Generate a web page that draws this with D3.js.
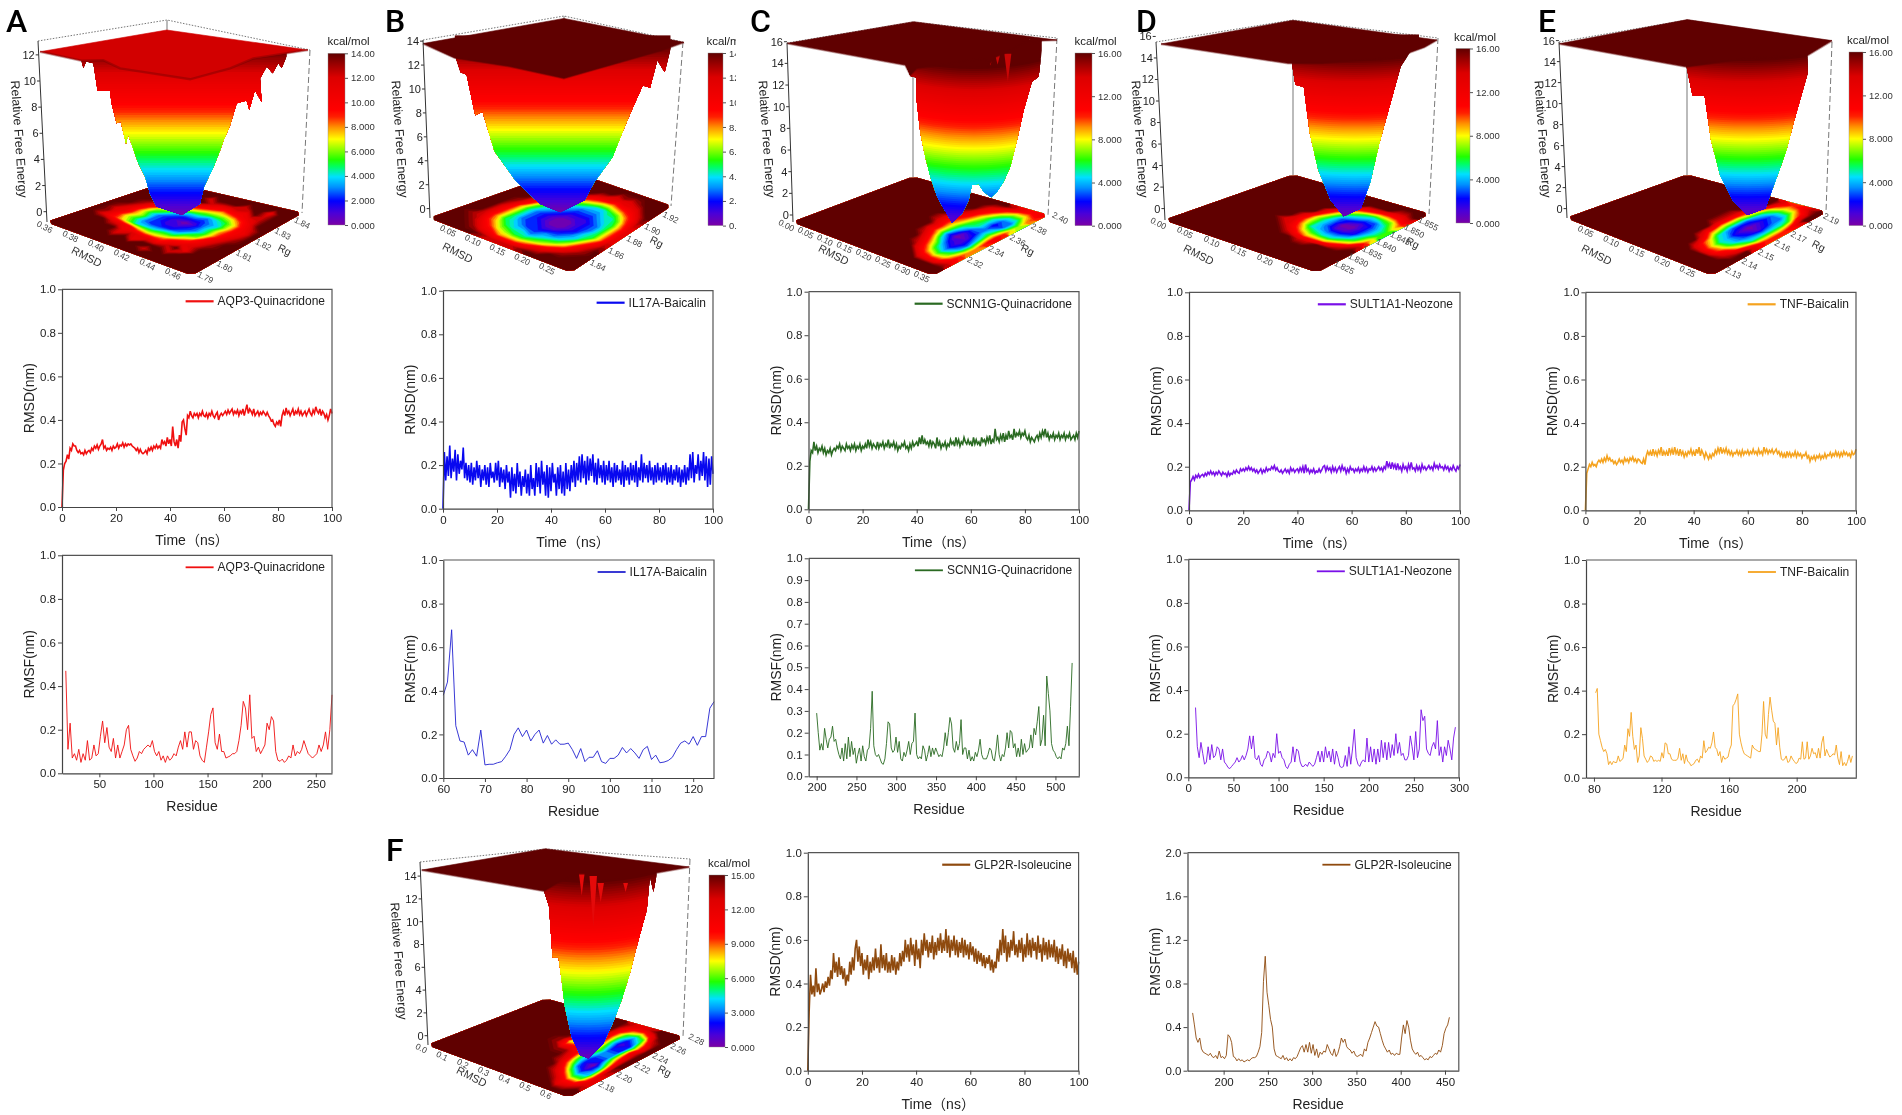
<!DOCTYPE html>
<html>
<head>
<meta charset="utf-8">
<script src="https://cdn.jsdelivr.net/npm/d3@7"></script>
<style>
  body { margin: 0; background: #fff; }
  svg { display: block; filter: blur(0.35px); font-family: "Liberation Sans", "Noto Sans CJK SC", sans-serif; }
</style>
</head>
<body>
<div id="container"></div>
<script>
// RMSD traces, one value every half nanosecond
const rmsdA = [0,.17,.2,.21,.24,.22,.27,.26,.29,.28,.28,.26,.25,.26,.245,.25,.24,.26,.245,.255,
  .26,.25,.27,.26,.28,.27,.285,.265,.28,.29,.31,.27,.28,.26,.27,.265,.275,.26,.28,.27,
  .275,.29,.27,.285,.28,.295,.275,.29,.28,.29,.285,.29,.28,.275,.27,.26,.27,.25,.265,.25,
  .245,.25,.26,.245,.27,.26,.275,.26,.28,.27,.285,.27,.28,.27,.31,.29,.30,.28,.32,.29,
  .31,.28,.37,.30,.28,.31,.27,.33,.30,.39,.40,.36,.33,.42,.41,.44,.42,.41,.43,.42,
  .43,.41,.43,.42,.44,.42,.415,.43,.41,.43,.42,.44,.42,.41,.425,.435,.40,.42,.43,.42,
  .43,.44,.425,.445,.43,.44,.45,.425,.44,.43,.445,.42,.44,.43,.45,.42,.445,.47,.43,.45,
  .44,.425,.45,.42,.43,.44,.42,.435,.425,.44,.43,.42,.435,.42,.41,.395,.40,.38,.37,.39,
  .38,.40,.37,.42,.44,.42,.455,.43,.44,.42,.435,.45,.42,.44,.43,.45,.425,.44,.42,.43,
  .44,.42,.435,.45,.43,.42,.445,.43,.46,.44,.43,.45,.42,.44,.43,.41,.425,.40,.42,.45,.43];
const rmsdB = [0,.26,.13,.24,.15,.29,.14,.23,.17,.27,.13,.25,.16,.22,.18,.28,.14,.21,.13,.2,
  .12,.21,.11,.19,.13,.22,.14,.2,.1,.18,.13,.2,.11,.19,.1,.21,.14,.17,.12,.21,
  .13,.22,.1,.19,.12,.18,.09,.2,.12,.17,.05,.19,.08,.16,.07,.21,.1,.17,.06,.15,
  .1,.18,.07,.16,.06,.2,.09,.14,.06,.21,.1,.19,.07,.22,.11,.17,.06,.2,.05,.19,
  .08,.21,.12,.16,.06,.19,.09,.2,.07,.17,.06,.21,.09,.18,.08,.2,.12,.22,.1,.21,
  .13,.24,.12,.25,.14,.22,.11,.24,.13,.23,.15,.25,.12,.21,.11,.23,.14,.2,.12,.22,
  .11,.2,.13,.22,.12,.19,.1,.21,.12,.2,.13,.18,.11,.22,.1,.2,.13,.19,.11,.21,
  .13,.2,.12,.22,.1,.19,.13,.25,.12,.21,.14,.2,.12,.22,.13,.19,.11,.2,.12,.21,
  .13,.19,.12,.2,.13,.21,.11,.19,.12,.2,.11,.18,.13,.2,.12,.19,.1,.18,.12,.2,
  .11,.19,.13,.25,.14,.26,.12,.2,.16,.25,.13,.22,.15,.26,.13,.24,.1,.23,.11,.24,.16];
const rmsdC = [0,.22,.27,.26,.31,.27,.29,.26,.28,.27,.29,.26,.28,.25,.27,.26,.28,.25,.27,.28,
  .27,.29,.28,.30,.27,.29,.28,.27,.30,.28,.29,.27,.295,.28,.30,.27,.29,.28,.30,.27,
  .29,.28,.30,.28,.32,.29,.31,.28,.30,.29,.28,.31,.28,.30,.29,.31,.28,.30,.29,.32,
  .28,.30,.29,.31,.28,.30,.27,.29,.28,.30,.29,.31,.28,.29,.27,.30,.28,.31,.29,.30,
  .31,.29,.33,.30,.34,.30,.32,.30,.31,.29,.32,.29,.31,.30,.28,.33,.29,.31,.28,.30,
  .29,.31,.28,.30,.29,.32,.30,.31,.29,.33,.30,.32,.29,.31,.30,.33,.31,.30,.32,.30,
  .31,.29,.33,.30,.32,.30,.31,.29,.33,.31,.32,.30,.33,.31,.34,.30,.32,.31,.37,.32,
  .33,.31,.34,.32,.35,.31,.34,.32,.36,.33,.34,.32,.37,.33,.35,.34,.36,.33,.35,.34,
  .36,.33,.32,.34,.31,.33,.32,.31,.33,.34,.32,.35,.33,.36,.34,.37,.33,.35,.32,.34,
  .33,.35,.32,.34,.33,.35,.32,.34,.33,.35,.32,.34,.33,.35,.32,.33,.34,.32,.35,.33,.36];
const rmsdD = [0,.13,.14,.155,.14,.16,.15,.165,.15,.16,.165,.155,.17,.16,.175,.165,.18,.165,.175,.16,
  .175,.165,.18,.17,.16,.175,.165,.17,.155,.175,.16,.17,.165,.18,.17,.185,.175,.17,.19,.18,
  .19,.18,.195,.185,.2,.185,.195,.18,.19,.175,.185,.17,.18,.19,.17,.185,.175,.195,.18,.19,
  .185,.2,.19,.205,.185,.195,.18,.175,.185,.17,.18,.19,.175,.185,.17,.195,.18,.19,.175,.185,
  .19,.175,.195,.18,.2,.17,.21,.18,.19,.17,.185,.175,.19,.17,.18,.175,.19,.175,.185,.2,
  .205,.18,.2,.185,.195,.175,.2,.18,.195,.175,.19,.2,.18,.205,.185,.195,.17,.19,.175,.2,
  .185,.19,.175,.19,.18,.195,.175,.19,.18,.2,.18,.195,.175,.19,.185,.2,.18,.195,.18,.19,
  .2,.185,.195,.18,.2,.19,.225,.2,.215,.19,.22,.195,.21,.185,.215,.19,.2,.18,.21,.19,
  .2,.18,.21,.19,.22,.19,.195,.18,.205,.185,.2,.18,.21,.19,.2,.185,.195,.205,.19,.2,
  .185,.215,.195,.205,.19,.21,.195,.2,.185,.205,.19,.2,.18,.195,.185,.205,.19,.18,.2,.19,.21];
const rmsdE = [0,.17,.19,.21,.2,.22,.205,.21,.2,.22,.23,.22,.235,.22,.24,.225,.25,.23,.24,.225,
  .23,.215,.225,.21,.22,.235,.22,.23,.215,.24,.225,.235,.22,.24,.23,.245,.225,.235,.22,.235,
  .23,.22,.215,.235,.21,.25,.27,.255,.27,.25,.28,.255,.27,.25,.275,.26,.29,.25,.27,.255,
  .27,.25,.285,.26,.28,.255,.29,.26,.275,.25,.28,.255,.27,.245,.265,.25,.27,.26,.28,.255,
  .27,.25,.28,.26,.29,.25,.275,.26,.24,.265,.25,.235,.255,.24,.26,.25,.275,.26,.285,.265,
  .29,.26,.28,.265,.285,.26,.275,.255,.27,.25,.265,.26,.275,.255,.27,.25,.275,.255,.27,.26,
  .275,.255,.27,.26,.28,.26,.27,.255,.28,.26,.27,.255,.29,.265,.28,.26,.275,.265,.28,.26,
  .27,.28,.26,.27,.25,.265,.245,.26,.24,.27,.25,.265,.245,.26,.25,.27,.245,.265,.25,.26,
  .24,.255,.25,.265,.24,.25,.225,.245,.235,.25,.23,.25,.24,.255,.235,.25,.24,.26,.24,.255,
  .25,.265,.245,.26,.25,.27,.25,.265,.245,.265,.25,.27,.255,.265,.25,.26,.245,.27,.255,.26,.28];
const rmsdF = [0,.27,.44,.35,.39,.34,.47,.36,.4,.35,.37,.4,.36,.41,.38,.43,.39,.46,.42,.54,
  .45,.5,.43,.52,.44,.48,.42,.47,.39,.44,.41,.5,.44,.52,.46,.56,.6,.5,.57,.48,
  .54,.44,.51,.46,.53,.42,.5,.45,.52,.46,.56,.47,.52,.45,.58,.47,.53,.46,.54,.45,
  .5,.45,.53,.46,.52,.44,.5,.46,.54,.48,.55,.5,.6,.52,.58,.5,.61,.53,.58,.48,
  .6,.51,.56,.47,.6,.53,.63,.55,.6,.52,.59,.54,.62,.51,.59,.53,.61,.55,.63,.54,
  .6,.55,.65,.54,.62,.52,.6,.55,.62,.53,.6,.52,.59,.54,.61,.52,.6,.53,.58,.51,
  .59,.53,.57,.5,.56,.49,.55,.5,.54,.48,.53,.47,.52,.49,.53,.46,.51,.45,.5,.47,
  .56,.5,.6,.53,.65,.54,.62,.5,.59,.52,.6,.55,.64,.53,.58,.52,.6,.54,.61,.5,
  .58,.52,.63,.53,.6,.52,.61,.55,.59,.51,.62,.54,.58,.5,.61,.53,.59,.51,.6,.52,
  .58,.52,.6,.5,.57,.49,.56,.51,.58,.48,.55,.47,.56,.5,.54,.47,.55,.45,.52,.44,.5];

// RMSF traces, evenly spread between rmsfFirst and rmsfLast residue
const rmsfA = [.47,.11,.23,.07,.09,.06,.11,.05,.09,.06,.15,.06,.07,.13,.08,.09,.17,.24,.14,.21,.12,.1,.16,.07,.13,.07,.1,.13,.2,.22,.11,.08,.055,.07,.1,.09,.11,.12,.13,.12,.15,.1,.08,.1,.06,.08,.05,.08,.06,.07,.09,.08,.12,.15,.11,.19,.12,.19,.19,.11,.15,.14,.08,.06,.05,.12,.19,.27,.3,.14,.11,.18,.1,.1,.07,.075,.08,.09,.09,.1,.15,.22,.33,.3,.2,.36,.16,.17,.1,.12,.09,.11,.13,.23,.2,.26,.24,.1,.06,.055,.065,.05,.06,.08,.07,.13,.08,.1,.09,.11,.15,.12,.09,.08,.07,.08,.09,.13,.1,.13,.19,.11,.2,.36];
const rmsfB = [.38,.44,.68,.24,.17,.165,.105,.13,.1,.22,.06,.063,.063,.07,.075,.1,.13,.2,.23,.19,.22,.17,.2,.22,.16,.195,.155,.175,.155,.155,.16,.13,.09,.135,.075,.095,.095,.125,.075,.067,.09,.09,.105,.14,.115,.135,.115,.09,.13,.145,.085,.105,.07,.073,.08,.095,.13,.16,.17,.155,.19,.15,.19,.19,.32,.35];
const rmsfC = [.29,.2,.12,.15,.12,.22,.17,.13,.17,.18,.23,.16,.17,.13,.1,.08,.13,.07,.15,.08,.18,.09,.16,.1,.13,.06,.1,.13,.07,.14,.09,.07,.12,.13,.22,.39,.14,.1,.09,.1,.08,.06,.055,.08,.15,.25,.24,.13,.11,.12,.18,.11,.16,.08,.07,.11,.09,.12,.16,.1,.15,.16,.29,.1,.08,.09,.08,.14,.12,.07,.1,.14,.09,.13,.1,.13,.11,.09,.1,.09,.13,.2,.14,.2,.27,.24,.13,.11,.16,.12,.15,.26,.1,.13,.13,.08,.12,.07,.09,.07,.11,.09,.12,.17,.1,.08,.08,.08,.1,.13,.12,.08,.07,.12,.19,.1,.07,.1,.09,.13,.2,.13,.21,.2,.13,.15,.09,.13,.09,.17,.1,.15,.11,.12,.13,.19,.13,.22,.19,.25,.32,.14,.17,.28,.14,.46,.38,.3,.15,.12,.11,.09,.08,.09,.08,.13,.12,.15,.23,.14,.32,.52];
const rmsfD = [.32,.14,.09,.16,.11,.06,.07,.14,.08,.15,.09,.1,.14,.13,.08,.13,.07,.06,.045,.04,.05,.06,.07,.09,.07,.08,.1,.08,.1,.13,.19,.13,.19,.09,.08,.1,.06,.05,.08,.09,.12,.11,.07,.11,.09,.2,.11,.12,.09,.08,.05,.04,.06,.07,.14,.07,.13,.12,.07,.05,.05,.06,.05,.07,.06,.05,.06,.09,.12,.07,.12,.07,.14,.09,.12,.07,.13,.06,.12,.09,.05,.045,.05,.1,.05,.14,.06,.13,.22,.09,.06,.05,.07,.08,.07,.18,.07,.14,.07,.13,.06,.13,.07,.17,.09,.16,.08,.16,.09,.15,.1,.2,.11,.16,.1,.11,.08,.08,.1,.19,.14,.08,.21,.09,.13,.31,.26,.28,.13,.11,.1,.14,.16,.13,.26,.1,.14,.07,.14,.1,.17,.13,.08,.18,.23];
const rmsfE = [.39,.41,.2,.17,.14,.12,.13,.11,.06,.075,.06,.075,.07,.07,.1,.075,.08,.09,.15,.12,.225,.19,.3,.19,.13,.15,.07,.1,.23,.18,.1,.085,.07,.08,.1,.095,.075,.08,.075,.08,.075,.115,.09,.16,.155,.11,.11,.085,.08,.08,.08,.09,.135,.08,.11,.065,.105,.075,.07,.055,.06,.065,.08,.085,.07,.1,.09,.17,.115,.125,.14,.135,.16,.21,.14,.13,.1,.12,.07,.1,.085,.09,.095,.13,.15,.33,.34,.36,.385,.2,.16,.13,.11,.105,.1,.095,.09,.15,.135,.13,.125,.12,.12,.2,.35,.2,.18,.29,.37,.31,.26,.25,.15,.23,.14,.085,.08,.085,.1,.07,.075,.1,.085,.075,.065,.07,.09,.085,.165,.085,.09,.165,.085,.1,.135,.11,.115,.09,.135,.09,.16,.19,.1,.13,.11,.095,.1,.11,.105,.15,.09,.06,.12,.055,.07,.055,.075,.105,.07,.1];
const rmsfF = [.53,.42,.3,.26,.3,.2,.17,.16,.15,.14,.16,.13,.12,.14,.11,.18,.12,.13,.11,.14,
  .33,.31,.26,.13,.12,.09,.11,.09,.1,.08,.09,.1,.09,.11,.12,.12,.13,.17,.22,.35,
  .82,1.05,.72,.6,.47,.4,.2,.14,.13,.12,.11,.14,.1,.12,.09,.11,.09,.12,.11,.13,
  .17,.21,.23,.17,.24,.17,.26,.16,.24,.14,.2,.12,.17,.15,.18,.17,.24,.2,.16,.14,
  .2,.13,.16,.22,.3,.26,.29,.22,.2,.19,.16,.18,.14,.13,.14,.15,.13,.2,.18,.26,
  .3,.35,.4,.45,.41,.4,.34,.28,.23,.2,.17,.19,.15,.16,.14,.16,.15,.15,.3,.42,
  .34,.46,.4,.28,.2,.17,.15,.17,.13,.14,.12,.1,.11,.1,.13,.12,.14,.16,.15,.19,.17,.23,.34,.39,.42,.49];
const rmsfFirst = [19, 60, 200, 8, 81, 165];
const rmsfLast = [265, 125, 521, 296, 233, 455];

// Free energy on the RMSD / Rg floor, one character per cell (base 36, kcal/mol)
const floorA = ['eeeeeeeeeeeeeeee','eeeeeeeeeceeeeee','eeeeecebeeeceeee','eeeeebcbbacebeee','eeecba8778abceee','eca864445579bdee','eda753222356acee','ecb8632112358bde','edb8532101358ace','eec9653222347abe','eedb975443457ace','eeeeba8766679bee','eeeeceba989abcee','eeeeeeecbbcbecee','eeeeeeceeeceebee','eeeeeeeeeeeeeeee'];
const floorB = ['eeeeedcccdeeeeee','eeedba8889bceeee','eedb97655679bdee','edc9754434568bde','eeb85432233469ce','eeb85322112347ad','eeb853210012458c','eec853210012358b','eeda64321112358b','eeeb85432223458b','eeeda8543334469c','eeeeda86544568ad','eeeeedb987789ace','eeeeeeecbbabbcee','eeeeeeeeecdcdeee','eeeeeeeeeeeeeeee'];
const floorC = ['gggggggggggggggg','gggggggggggggggg','ggggggggggggcbbe','gggggggggggc978b','ggggggggggea646a','ggggggggggc84249','gggggggggea52139','gggggggggc83014a','gggggggggc84125b','ggggggggeb85336b','ggggggggeb96535a','gggggggggca75238','gggggggggeb85337','ggggggggggca7559','ggggggggggeca88a','ggggggggggggecbc'];
const floorD = ['gggggggggggggggg','gggggggggggggggg','gggggggggggggggg','gggggggggggggggg','ggggggggggeegggg','ggggggggeb999beg','gggggggeb865579e','gggggged9543346a','gggggggc85311258','gggggggd85300246','gggggggga6321246','ggggggggc8543358','gggggggggb86567a','ggggggggggcbaabd','gggggggggggggeeg','gggggggggggggggg'];
const floorE = ['gggggggggggggggg','gggggggggggggggg','gggggggggggggggg','gggggggggggdbbeg','ggggggggggga89cg','ggggggggggd8569g','gggggggggga5447d','gggggggggg94235b','ggggggggge83125a','ggggggggge83015a','ggggggggge83125a','ggggggggge94235b','gggggggggga5336d','ggggggggggc7559g','ggggggggggga88bg','gggggggggggdabeg'];
const floorF = ['ffffffffffffffff','fffffffffffffcdf','ffffffffffffdaad','fffffffffffda66c','fffffffffffb634c','ffffffffffd8314d','ffffffffffc6205e','ffffffffeeb5227f','fffffffeabb6339f','fffffffe78c733af','ffffffffbac622bf','fffffffffeb5129f','fffffffffea524af','ffffffffffa646df','ffffffffffb98bff','ffffffffffdcdfff'];

// Funnel outline: u = percent across the box, z = kcal/mol
const wallUA = [15.5,16.2,17.2,19.9,21.5,26.1,26.7,28.6,30.1,32.1,32.9,36.7,39.2,41,43.5,52.9,59.7,61.2,64.7,67.2,68.4,70.9,73.4,77.1,78.1,80.2,82.7,82.1,84.6,86.8,88.9,90.2,92,92,15.5];
const wallZA = [11.5,11,11.5,11.35,9.26,9.26,8.3,6.76,6.9,5.2,5.9,3.7,2.7,1.4,.4,-.25,.6,1.9,3.4,4.7,5.4,6.6,8.3,8.5,7.8,9.3,8.4,10.2,11.1,10.6,11.35,11,11.9,12.4,12.4];
const wallUB = [12.1,14.4,16.7,20,22.8,27.4,35.3,40.9,44.7,52.6,61.9,65.6,72.6,77.2,80.5,84.2,87,89.8,92.6,94.9,94.9,12.1];
const wallZB = [12.9,11.4,11.2,7.8,8.1,4.8,2.4,1.2,.4,-.3,.7,2.2,4.3,6.8,8.5,10.3,10.1,12.4,11.4,13.4,14.5,14.5];
const wallUC = [44.1,45.7,47.8,47.8,49.4,51.2,53.1,55.6,58,61.1,64.8,67.3,68.5,71,72.8,75.6,77.8,80.2,82.7,85.2,87.7,90.7,93.2,94.4,94.4,44.1];
const wallZC = [13.85,12.83,12.7,11.08,7.54,5.38,3.54,1.69,.62,-.7,.15,1.38,2.77,2.86,2.15,1.63,2.15,3.08,4.46,6.92,9.69,12.3,12.77,15.2,16.2,16.2];
const wallUD = [53.3,54.7,57.8,60,63.1,67.6,72.4,78.7,82.2,85.3,88.9,93.3,97.8,100,100,53.3];
const wallZD = [13.75,11.5,11.3,7,3.6,.8,-.7,0,2.5,5.9,9.2,13.2,14.9,15.5,16.2,16.2];
const wallUE = [46.7,48.9,53.3,55.6,59.1,63.6,68.9,75.6,79.1,83.1,86.7,91.1,91.1,46.7];
const wallZE = [13.5,10.8,10.8,6.6,3.1,.8,-.6,0,2.5,5.4,8.9,12.9,16.2,16.2];
const wallUF = [45.7,47.6,48.9,51.1,52.3,53.5,56,59.2,62.3,67.9,71.6,74.7,77.8,81,84.1,85.3,86.6,87.8,87.8,45.7];
const wallZF = [12.69,11.32,6.87,6.87,4.88,2.54,-.09,-1.7,-2,-.67,1.23,3.13,5.47,8.39,11.02,13.95,12.63,14.09,14.8,14.8];

// Front edge of the plateau, left corner to right corner, then the far corner
const rimUA = [0,15.5,23.6,29.9,56,70.9,79.6,100,47.3];
const rimZA = [12.24,11.55,11.6,10.97,10.13,10.97,11.73,12.37,13.9];
const rimUB = [0,12.1,33,54,74.9,91,100,54];
const rimZB = [13.8,12.6,11.9,10.9,12.2,13.2,13.9,15.9];
const rimUC = [0,43.8,45.7,48.1,56.8,64.2,73.5,74.7,77.2,80.2,89.9,91.6,94.4,100,46.9];
const rimZC = [15.85,13.85,12.92,13.54,13.85,14.15,14.46,13.85,14.6,14.9,16.2,15.85,16.1,16.15,17.85];
const rimUD = [5.5,52,64.5,91,102,106.6,53.8];
const rimZD = [15.3,13.5,13.5,14,15,15.67,17.5];
const rimUE = [0,46.7,68.9,91.1,100,47];
const rimZE = [15.7,13.5,14.3,14.6,16,18];
const rimUF = [0,45.7,50.7,58.2,85.6,100,46.2];
const rimZF = [14.53,12.69,13.4,14.2,14.2,14.8,16.4];

// Light streaks hanging from the rim: centre, half width, top, tip
const streakUC = [75.3,78,81.8];
const streakWC = [1,1,1.3];
const streakTopC = [14.6,14.9,14.9];
const streakTipC = [13.8,13.9,12.3];
const streakUF = [59.8,64.1,66.9,76.2];
const streakWF = [1.2,1.4,1.2,.9];
const streakTopF = [14.5,14,13.4,13.4];
const streakTipF = [12.3,9.56,11.7,12.6];

// Colour bar ticks
const barTicksA = [0,2,4,6,8,10,12,14];
const barTicksC = [0,4,8,12,16];
const barTicksF = [0,3,6,9,12,15];
const zTicksA = [0,2,4,6,8,10,12];
const zTicksB = [0,2,4,6,8,10,12,14];
const zTicksC = [0,2,4,6,8,10,12,14,16];

// Floor axes tick labels
const rmsdTicksA = [.36,.38,.40,.42,.44,.46];
const rgTicksA = [1.79,1.80,1.81,1.82,1.83,1.84];
const rmsdTicksB = [.05,.10,.15,.20,.25];
const rgTicksB = [1.84,1.86,1.88,1.90,1.92];
const rmsdTicksC = [0,.05,.10,.15,.20,.25,.30,.35];
const rgTicksC = [2.32,2.34,2.36,2.38,2.40];
const rmsdTicksD = [0,.05,.10,.15,.20,.25];
const rgTicksD = [1.825,1.830,1.835,1.840,1.845,1.850,1.855];
const rmsdTicksE = [.05,.10,.15,.20,.25];
const rgTicksE = [2.13,2.14,2.15,2.16,2.17,2.18,2.19];
const rmsdTicksF = [0,.1,.2,.3,.4,.5,.6];
const rgTicksF = [2.18,2.20,2.22,2.24,2.26,2.28];

// Rainbow used by every surface and colour bar
const rainbowAt = [0,.07,.14,.22,.28,.34,.38,.5,.57,.63,.67,.8,.86,.93,1];
const rainbowColors = ['#7a00a5','#4a00d8','#0000ff','#0090ff','#00e0ff','#00ff60','#20ff00','#ffff00','#ff9000','#ff2000','#ff0000','#e80000','#dc0000','#a00000','#600000'];
const rainbow = d3.scaleLinear().domain(rainbowAt).range(rainbowColors);

const svg = d3.select('#container').append('svg')
  .attr('width', 1902)
  .attr('height', 1115);

const defs = svg.append('defs');

// ---------- line plots ----------
const linePlots = [
  { y: rmsdA, kind: 'rmsd', box: [62, 289.3, 332, 507], name: 'AQP3-Quinacridone', color: '#f01010' },
  { y: rmsdB, kind: 'rmsd', box: [443, 290.7, 713, 508.7], name: 'IL17A-Baicalin', color: '#0808f0' },
  { y: rmsdC, kind: 'rmsd', box: [808.5, 291.7, 1079, 509.3], name: 'SCNN1G-Quinacridone', color: '#2a6a22' },
  { y: rmsdD, kind: 'rmsd', box: [1189, 292.3, 1460, 510.3], name: 'SULT1A1-Neozone', color: '#7a10e8' },
  { y: rmsdE, kind: 'rmsd', box: [1585.4, 292.3, 1856, 510.3], name: 'TNF-Baicalin', color: '#f5a31f' },
  { y: rmsdF, kind: 'rmsd', box: [807.8, 852.7, 1078.6, 1070.7], name: 'GLP2R-Isoleucine', color: '#8f4a0e' },
  { y: rmsfA, kind: 'rmsf', i: 0, box: [62, 555.3, 332, 773.3], xd: [15.5, 265], xt: [50,100,150,200,250], name: 'AQP3-Quinacridone', color: '#f01010' },
  { y: rmsfB, kind: 'rmsf', i: 1, box: [443.3, 560, 714, 778], xd: [60, 125], xt: [60,70,80,90,100,110,120], name: 'IL17A-Baicalin', color: '#2424d0' },
  { y: rmsfC, kind: 'rmsf', i: 2, box: [808.7, 558.3, 1079.3, 776.3], xd: [190, 530], xt: [200,250,300,350,400,450,500], yt: d3.range(0, 1.01, .1), name: 'SCNN1G-Quinacridone', color: '#2a6a22' },
  { y: rmsfD, kind: 'rmsf', i: 3, box: [1188.3, 559.3, 1459, 777.3], xd: [0, 300], xt: [0,50,100,150,200,250,300], name: 'SULT1A1-Neozone', color: '#7a10e8' },
  { y: rmsfE, kind: 'rmsf', i: 4, box: [1586, 560, 1856.3, 777.7], xd: [75.3, 235.3], xt: [80,120,160,200], name: 'TNF-Baicalin', color: '#f5a31f' },
  { y: rmsfF, kind: 'rmsf', i: 5, box: [1187.5, 852.7, 1458.8, 1070.7], xd: [159.2, 465.6], xt: [200,250,300,350,400,450], yd: [0, 2], yt: [0,.4,.8,1.2,1.6,2], name: 'GLP2R-Isoleucine', color: '#8f4a0e' }
];

linePlots.forEach(p => {
  const [x0, y0, x1, y1] = p.box;
  const isRmsd = p.kind === 'rmsd';
  const xScale = d3.scaleLinear().domain(isRmsd ? [0, 100] : p.xd).range([x0, x1]);
  const yScale = d3.scaleLinear().domain(p.yd || [0, 1]).range([y1, y0]);
  const g = svg.append('g');

  const last = p.y.length - 1;
  const xAt = i => isRmsd ? i * 100 / last : rmsfFirst[p.i] + i * (rmsfLast[p.i] - rmsfFirst[p.i]) / last;
  g.append('path')
    .datum(p.y)
    .attr('fill', 'none')
    .attr('stroke', p.color)
    .attr('stroke-width', isRmsd ? 1.6 : 1)
    .attr('stroke-opacity', isRmsd ? 1 : .9)
    .attr('d', d3.line().x((d, i) => xScale(xAt(i))).y(d => yScale(d)));

  g.append('path')
    .attr('d', `M${x0},${y0}H${x1}V${y1}`)
    .attr('fill', 'none')
    .attr('stroke', '#555')
    .attr('stroke-width', 1.2);

  const xAxis = d3.axisBottom(xScale).tickSize(4).tickSizeOuter(0).tickPadding(3)
    .tickValues(isRmsd ? [0,20,40,60,80,100] : p.xt).tickFormat(d3.format('d'));
  const yAxis = d3.axisLeft(yScale).tickSize(4).tickSizeOuter(0).tickPadding(2)
    .tickValues(p.yt || [0,.2,.4,.6,.8,1]).tickFormat(d3.format('.1f'));

  [g.append('g').attr('transform', `translate(0,${y1})`).call(xAxis),
   g.append('g').attr('transform', `translate(${x0},0)`).call(yAxis)].forEach(a => {
    a.selectAll('text').attr('font-size', 11.5).attr('fill', '#222');
    a.attr('font-family', null);
    a.select('.domain').attr('stroke', '#444').attr('stroke-width', 1.2);
    a.selectAll('line').attr('stroke', '#444');
  });

  g.append('text')
    .attr('x', (x0 + x1) / 2 - 5)
    .attr('y', y1 + 38)
    .attr('text-anchor', 'middle')
    .attr('font-size', 14)
    .attr('fill', '#222')
    .text(isRmsd ? 'Time（ns）' : 'Residue');
  g.append('text')
    .attr('transform', `translate(${x0 - 28},${(y0 + y1) / 2}) rotate(-90)`)
    .attr('font-size', 14)
    .attr('fill', '#222')
    .attr('text-anchor', 'middle')
    .text(isRmsd ? 'RMSD(nm)' : 'RMSF(nm)');

  const label = g.append('text')
    .attr('x', x1 - 7)
    .attr('y', y0 + 16)
    .attr('text-anchor', 'end')
    .attr('font-size', 12)
    .attr('fill', '#222')
    .text(p.name);
  const w = label.node().getComputedTextLength();
  g.append('line')
    .attr('x1', x1 - 7 - w - 32).attr('x2', x1 - 7 - w - 4)
    .attr('y1', y0 + 12).attr('y2', y0 + 12)
    .attr('stroke', p.color)
    .attr('stroke-width', isRmsd ? 2.2 : 1.8);
});

// ---------- free energy surfaces ----------
const surfaces = [
  { id: 'A', grid: floorA, max: 14, plateau: 12.2, wallU: wallUA, wallZ: wallZA, rimU: rimUA, rimZ: rimZA,
    barTicks: barTicksA, zTicks: zTicksA, rmsdTicks: rmsdTicksA, rgTicks: rgTicksA,
    rmsdSpan: [.3566, .4696], rgSpan: [1.79, 1.8468], fmt: 2, rgFmt: 2,
    L: [47, 222], N: [192, 275], R: [302, 213], B: [167, 182], tL: [38, 41], tB: [167, 20], tR: [310, 50],
    uRange: [40, 308], z0: 211.7, zPerUnit: 13.07, band: [215.7, 48], bow: 0, tilt: 0, backLine: true,
    bar: [328, 345, 53.3, 225], title: [19.3, 139, 86], rmsdT: [85, 260], rgT: [283, 253], letter: [6, 32], clip: null },
  { id: 'B', grid: floorB, max: 14, plateau: 14, wallU: wallUB, wallZ: wallZB, rimU: rimUB, rimZ: rimZB,
    barTicks: barTicksA, zTicks: zTicksB, rmsdTicks: rmsdTicksB, rgTicks: rgTicksB,
    rmsdSpan: [0, .285], rgSpan: [1.825, 1.935], fmt: 2, rgFmt: 2,
    L: [430, 218], N: [571, 272], R: [671, 206], B: [567, 170], tL: [423, 40], tB: [564, 16], tR: [683, 42],
    uRange: [423, 684], z0: 208.6, zPerUnit: 11.96, band: [212, 45], bow: 0, tilt: 0, backLine: true,
    bar: [708, 723, 53, 225.6], title: [400, 139, 86], rmsdT: [456, 256], rgT: [655, 245], letter: [385, 32], clip: 736 },
  { id: 'C', grid: floorC, max: 16, plateau: 16, wallU: wallUC, wallZ: wallZC, rimU: rimUC, rimZ: rimZC,
    streakU: streakUC, streakW: streakWC, streakTop: streakTopC, streakTip: streakTipC, streakColor: '#c80606',
    barTicks: barTicksC, zTicks: zTicksC, rmsdTicks: rmsdTicksC, rgTicks: rgTicksC,
    rmsdSpan: [0, .362], rgSpan: [2.293, 2.401], fmt: 2, rgFmt: 2,
    L: [793, 222], N: [933, 275], R: [1048, 215], B: [913, 177], tL: [787, 43], tB: [913, 22], tR: [1057, 38],
    uRange: [787, 1057], z0: 215, zPerUnit: 10.83, band: [220, 59], bow: 8, tilt: 0, backLine: true,
    bar: [1075, 1092, 53, 225.7], title: [767, 139, 86], rmsdT: [832, 258], rgT: [1026, 253], letter: [750, 32], clip: null },
  { id: 'D', grid: floorD, max: 16, plateau: 16, wallU: wallUD, wallZ: wallZD, rimU: rimUD, rimZ: rimZD,
    barTicks: barTicksC, zTicks: zTicksC, rmsdTicks: rmsdTicksD, rgTicks: rgTicksD,
    rmsdSpan: [0, .285], rgSpan: [1.82, 1.86], fmt: 2, rgFmt: 3,
    L: [1165, 220], N: [1317, 272], R: [1429, 214], B: [1293, 175], tL: [1156, 42], tB: [1293, 20], tR: [1438, 38],
    uRange: [1146, 1419], z0: 208.6, zPerUnit: 10.76, band: [214, 55], bow: 4, tilt: 0, backLine: true,
    bar: [1456, 1470, 48.5, 223], title: [1140, 139, 86], rmsdT: [1197, 258], rgT: [1411, 246], letter: [1136, 32], clip: null },
  { id: 'E', grid: floorE, max: 16, plateau: 16, wallU: wallUE, wallZ: wallZE, rimU: rimUE, rimZ: rimZE,
    barTicks: barTicksC, zTicks: zTicksC, rmsdTicks: rmsdTicksE, rgTicks: rgTicksE,
    rmsdSpan: [0, .285], rgSpan: [2.125, 2.195], fmt: 2, rgFmt: 2,
    L: [1567, 218], N: [1712, 275], R: [1826, 212], B: [1687, 175], tL: [1559, 42], tB: [1687, 20], tR: [1832, 42],
    uRange: [1559, 1832], z0: 208.6, zPerUnit: 10.5, band: [214, 55], bow: 4, tilt: 0, backLine: true,
    bar: [1849, 1863, 52, 225.6], title: [1543, 139, 86], rmsdT: [1595, 258], rgT: [1817, 249], letter: [1538, 32], clip: null },
  { id: 'F', grid: floorF, max: 15, plateau: 15, wallU: wallUF, wallZ: wallZF, rimU: rimUF, rimZ: rimZF,
    streakU: streakUF, streakW: streakWF, streakTop: streakTopF, streakTip: streakTipF, streakColor: '#e40a0a',
    barTicks: barTicksF, zTicks: zTicksB, rmsdTicks: rmsdTicksF, rgTicks: rgTicksF,
    rmsdSpan: [0, .68], rgSpan: [2.153, 2.28], fmt: 1, rgFmt: 2,
    L: [428, 1045], N: [569, 1097], R: [683, 1037], B: [546, 999], tL: [420, 862], tB: [546, 849], tR: [690, 859],
    uRange: [421.7, 689.3], z0: 1035.7, zPerUnit: 11.4, band: [1055, 874], bow: 6, tilt: -6, backLine: false,
    bar: [709, 725, 875, 1047], title: [399, 961, 86], rmsdT: [470, 1080], rgT: [663, 1074], letter: [386, 861], clip: null }
];

// bar ticks keep two or three decimals so that every label has the same width
const barFormat = v => v < 10 ? v.toFixed(3) : v.toFixed(2);

surfaces.forEach(s => {
  const g = svg.append('g');
  const floorAt = (a, b) => [
    s.L[0] * (1 - a) * (1 - b) + s.N[0] * a * (1 - b) + s.R[0] * a * b + s.B[0] * (1 - a) * b,
    s.L[1] * (1 - a) * (1 - b) + s.N[1] * a * (1 - b) + s.R[1] * a * b + s.B[1] * (1 - a) * b
  ];
  const color = e => rainbow(Math.max(0, Math.min(1, e / s.max)));
  const uScale = d3.scaleLinear().domain([0, 100]).range(s.uRange);
  const zScale = d3.scaleLinear().domain([0, 1]).range([s.z0, s.z0 - s.zPerUnit]);
  const bandScale = d3.scaleLinear().domain([0, s.max]).range(s.band);

  // box frame behind everything
  g.append('path')
    .attr('d', `M${s.tL}L${s.tB}L${s.tR}`)
    .attr('fill', 'none').attr('stroke', '#666').attr('stroke-width', .9).attr('stroke-dasharray', '1.5,1.5');
  g.append('path')
    .attr('d', `M${s.tR}L${s.R}`)
    .attr('fill', 'none').attr('stroke', '#777').attr('stroke-width', 1).attr('stroke-dasharray', '6,3');
  if (s.backLine) {
    g.append('path')
      .attr('d', `M${s.tB}L${s.B}`)
      .attr('fill', 'none').attr('stroke', '#aaa').attr('stroke-width', 1.6);
  }

  // floor heat map from the grid
  const n = s.grid.length;
  const values = [];
  s.grid.forEach(row => row.split('').forEach(c => values.push(parseInt(c, 36))));
  const contours = d3.contours().size([n, n]).thresholds(d3.range(-.5, s.max + .5, .5))(values);
  const toFloor = d3.geoTransform({
    point(x, y) {
      const p = floorAt(x / n, y / n);
      this.stream.point(p[0], p[1]);
    }
  });
  const floorPath = d3.geoPath(toFloor);
  g.append('g').selectAll('path')
    .data(contours)
    .join('path')
    .attr('d', floorPath)
    .attr('fill', d => color(d.value + .25))
    .attr('stroke', d => color(d.value + .25))
    .attr('stroke-width', .3);

  // funnel: outline clips a stack of colour bands
  const wall = s.wallU.map((u, i) => [uScale(u), zScale(s.wallZ[i])]);
  const wallX = d3.extent(wall, d => d[0]);
  const wallY = d3.extent(wall, d => d[1]);
  defs.append('clipPath').attr('id', `wall${s.id}`)
    .append('path').attr('d', d3.line()(wall) + 'Z');
  const wallG = g.append('g').attr('clip-path', `url(#wall${s.id})`);
  wallG.append('rect')
    .attr('x', wallX[0]).attr('y', wallY[0])
    .attr('width', wallX[1] - wallX[0]).attr('height', wallY[1] - wallY[0])
    .attr('fill', color(s.max));
  const steps = d3.range(0, 1.01, .1);
  d3.range(s.max, -.01, -.2).forEach(e => {
    wallG.append('path')
      .datum(steps)
      .attr('fill', color(e))
      .attr('d', d3.area()
        .x(t => wallX[0] + t * (wallX[1] - wallX[0]))
        .y0(s.z0 + 60)
        .y1(t => bandScale(e) + s.bow * 4 * t * (1 - t) + s.tilt * (t - .5)));
  });

  // light streaks that run down from the rim
  if (s.streakU) {
    wallG.append('g').selectAll('path')
      .data(s.streakU)
      .join('path')
      .attr('fill', s.streakColor)
      .attr('d', (u, i) => d3.line()([
        [uScale(u - s.streakW[i]), zScale(s.streakTop[i])],
        [uScale(u + s.streakW[i]), zScale(s.streakTop[i])],
        [uScale(u), zScale(s.streakTip[i])]
      ]) + 'Z');
  }

  // plateau sits on top of the funnel rim
  const rim = s.rimU.map((u, i) => [uScale(u), zScale(s.rimZ[i])]);
  g.append('path')
    .attr('d', d3.line()(rim) + 'Z')
    .attr('fill', color(s.plateau))
    .attr('stroke', color(s.plateau))
    .attr('stroke-width', .6);
  g.append('path')
    .attr('d', d3.line()(rim.slice(0, rim.length - 1)))
    .attr('fill', 'none')
    .attr('stroke', color(s.max))
    .attr('stroke-opacity', .35)
    .attr('stroke-width', 2.4);

  // z axis along the left edge of the box
  const zX = d3.scaleLinear().domain([s.L[1], s.tL[1]]).range([s.L[0], s.tL[0]]);
  g.append('path')
    .attr('d', `M${s.tL}L${s.L}`)
    .attr('fill', 'none').attr('stroke', '#333').attr('stroke-width', 1);
  const zt = g.append('g').selectAll('g')
    .data(s.zTicks)
    .join('g')
    .attr('transform', d => `translate(${zX(zScale(d))},${zScale(d)})`);
  zt.append('line').attr('x2', -3).attr('stroke', '#333');
  zt.append('text')
    .attr('x', -4).attr('dy', '.36em')
    .attr('text-anchor', 'end')
    .attr('font-size', 11).attr('fill', '#222')
    .text(d => d);
  g.append('text')
    .attr('transform', `translate(${s.title[0]},${s.title[1]}) rotate(${s.title[2]})`)
    .attr('text-anchor', 'middle')
    .attr('dy', '.35em')
    .attr('font-size', 12.5).attr('fill', '#222')
    .text('Relative Free Energy');

  // floor tick labels run along the two front edges
  const rmsdPos = d3.scaleLinear().domain(s.rmsdSpan).range([0, 1]);
  const rgPos = d3.scaleLinear().domain(s.rgSpan).range([0, 1]);
  g.append('g').selectAll('text')
    .data(s.rmsdTicks)
    .join('text')
    .attr('transform', d => {
      const p = floorAt(rmsdPos(d), 0);
      return `translate(${p[0] - 8},${p[1] + 6}) rotate(27)`;
    })
    .attr('text-anchor', 'middle').attr('font-size', 8.5).attr('fill', '#444')
    .text(d => d.toFixed(s.fmt));
  g.append('g').selectAll('text')
    .data(s.rgTicks)
    .join('text')
    .attr('transform', d => {
      const p = floorAt(1, rgPos(d));
      return `translate(${p[0] + 12},${p[1] + 5}) rotate(27)`;
    })
    .attr('text-anchor', 'middle').attr('font-size', 8.5).attr('fill', '#444')
    .text(d => d.toFixed(s.rgFmt));
  g.append('text')
    .attr('transform', `translate(${s.rmsdT[0]},${s.rmsdT[1]}) rotate(27)`)
    .attr('text-anchor', 'middle').attr('font-size', 11).attr('fill', '#333')
    .text('RMSD');
  g.append('text')
    .attr('transform', `translate(${s.rgT[0]},${s.rgT[1]}) rotate(27)`)
    .attr('text-anchor', 'middle').attr('font-size', 10.5).attr('fill', '#333')
    .text('Rg');

  // colour bar
  const [bx0, bx1, by0, by1] = s.bar;
  const barScale = d3.scaleLinear().domain([0, s.max]).range([by1, by0]);
  const grad = defs.append('linearGradient').attr('id', `bar${s.id}`)
    .attr('x1', 0).attr('x2', 0).attr('y1', 1).attr('y2', 0);
  grad.selectAll('stop').data(rainbowAt).join('stop')
    .attr('offset', d => d)
    .attr('stop-color', (d, i) => rainbowColors[i]);
  const bg = g.append('g');
  if (s.clip) {
    defs.append('clipPath').attr('id', `cut${s.id}`)
      .append('rect').attr('x', bx0 - 40).attr('y', 0).attr('width', s.clip - bx0 + 40).attr('height', 300);
    bg.attr('clip-path', `url(#cut${s.id})`);
  }
  bg.append('rect')
    .attr('x', bx0).attr('y', by0).attr('width', bx1 - bx0).attr('height', by1 - by0)
    .attr('fill', `url(#bar${s.id})`).attr('stroke', '#888').attr('stroke-width', .4);
  bg.append('g')
    .attr('transform', `translate(${bx1},0)`)
    .call(d3.axisRight(barScale).tickValues(s.barTicks).tickFormat(barFormat).tickSize(3).tickPadding(3))
    .call(a => {
      a.attr('font-family', null);
      a.select('.domain').remove();
      a.selectAll('line').attr('stroke', '#555');
      a.selectAll('text').attr('font-size', 9.5).attr('fill', '#333');
    });
  bg.append('text')
    .attr('x', (bx0 + bx1) / 2 + 12)
    .attr('y', by0 - 8)
    .attr('text-anchor', 'middle')
    .attr('font-size', 11.5).attr('fill', '#222')
    .text('kcal/mol');

  g.append('text')
    .attr('x', s.letter[0]).attr('y', s.letter[1])
    .attr('font-family', 'Roboto, sans-serif')
    .attr('font-size', 32).attr('font-weight', 500).attr('fill', '#000')
    .text(s.id);
});
</script>
</body>
</html>
